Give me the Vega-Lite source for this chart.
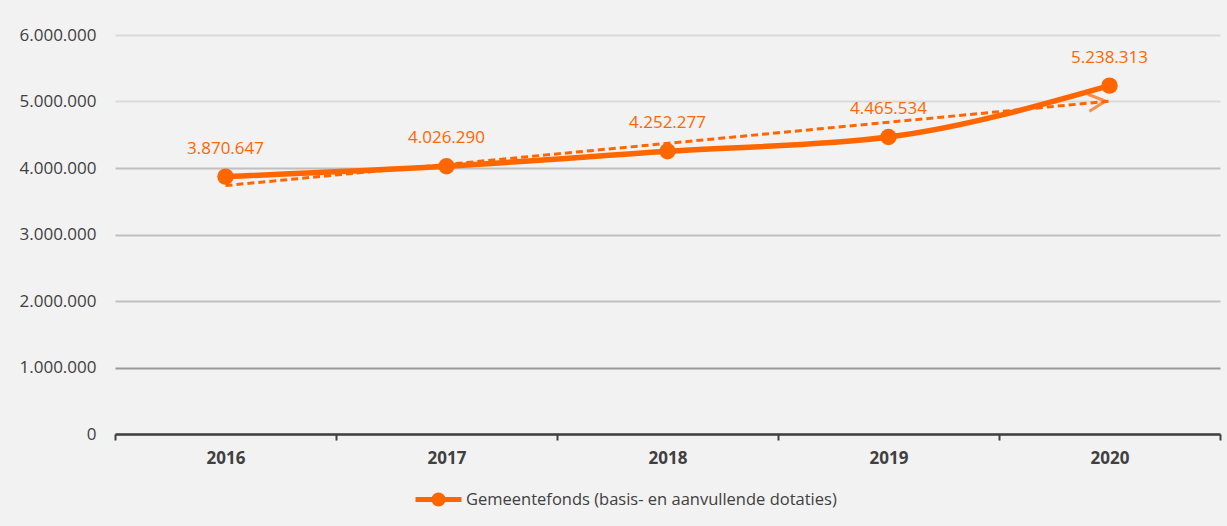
{
  "$schema": "https://vega.github.io/schema/vega-lite/v6.json",
  "autosize": {"type": "none"},
  "width": 1105,
  "height": 399,
  "padding": {"left": 115, "top": 35, "right": 7, "bottom": 92},
  "background": "#f2f2f2",
  "config": {
    "locale": {"number": {"decimal": ",", "thousands": ".", "grouping": [3], "currency": ["€", ""]}},
    "view": {"stroke": null},
    "font": "Open Sans"
  },
  "datasets": {
    "main": [
      {"jaar": "2016", "waarde": 3870647, "reeks": "Gemeentefonds (basis- en aanvullende dotaties)"},
      {"jaar": "2017", "waarde": 4026290, "reeks": "Gemeentefonds (basis- en aanvullende dotaties)"},
      {"jaar": "2018", "waarde": 4252277, "reeks": "Gemeentefonds (basis- en aanvullende dotaties)"},
      {"jaar": "2019", "waarde": 4465534, "reeks": "Gemeentefonds (basis- en aanvullende dotaties)"},
      {"jaar": "2020", "waarde": 5238313, "reeks": "Gemeentefonds (basis- en aanvullende dotaties)"}
    ],
    "trend": [
      {"jaar": "2016", "waarde": 3735700},
      {"jaar": "2020", "waarde": 5005500}
    ],
    "pijl": [
      {"jaar": "2020", "waarde": 5005500}
    ]
  },
  "encoding": {
    "x": {
      "field": "jaar", "type": "nominal",
      "scale": {"type": "band", "paddingInner": 0, "paddingOuter": 0, "domain": ["2016", "2017", "2018", "2019", "2020"]},
      "axis": {
        "title": null, "labelAngle": 0, "grid": false,
        "tickBand": "extent",
        "domainColor": "#404040", "domainWidth": 2.5,
        "tickColor": "#404040", "tickWidth": 2, "tickSize": 6,
        "labelFont": "Open Sans", "labelFontSize": 17, "labelFontWeight": "bold",
        "labelColor": "#404040", "labelPadding": 10
      }
    },
    "y": {
      "field": "waarde", "type": "quantitative",
      "scale": {"domain": [0, 6000000], "nice": false},
      "axis": {
        "title": null, "values": [0, 1000000, 2000000, 3000000, 4000000, 5000000, 6000000],
        "format": ",d", "domain": false, "ticks": false,
        "labelPadding": 19, "labelFont": "Open Sans", "labelFontSize": 17, "labelColor": "#404040",
        "gridWidth": 2,
        "gridColor": {"condition": [
          {"test": "datum.value >= 5000000", "value": "#d9d9d9"},
          {"test": "datum.value == 1000000", "value": "#999999"}
        ], "value": "#bfbfbf"}
      }
    }
  },
  "layer": [
    {
      "data": {"name": "trend"},
      "mark": {"type": "line", "color": "#ff6600", "strokeWidth": 3, "strokeDash": [7, 4]}
    },
    {
      "data": {"name": "pijl"},
      "mark": {"type": "point", "shape": "M -1 -0.5 L 0 0 L -1 0.5", "filled": false, "stroke": "#ff6600", "strokeWidth": 3, "size": 1156, "angle": -5.4, "xOffset": -4}
    },
    {
      "data": {"name": "main"},
      "mark": {"type": "line", "interpolate": "monotone", "strokeWidth": 5.5},
      "encoding": {
        "color": {
          "field": "reeks", "type": "nominal",
          "scale": {"range": ["#ff6600"]},
          "legend": {
            "title": null, "orient": "none", "legendX": 298, "legendY": 439, "direction": "horizontal",
            "symbolType": "M -1 0 L 1 0 M 0.2 0 A 0.2 0.2 0 1 1 -0.2 0 A 0.2 0.2 0 1 1 0.2 0 Z",
            "symbolSize": 2116, "symbolStrokeWidth": 5,
            "symbolFillColor": "#ff6600", "symbolStrokeColor": "#ff6600",
            "labelFont": "Open Sans", "labelFontSize": 16.5, "labelColor": "#404040",
            "labelLimit": 600, "labelOffset": 2,
            "encode": {"symbols": {"update": {"stroke": {"value": "#ff6600"}, "fill": {"value": "#ff6600"}, "strokeWidth": {"value": 5}, "shape": {"value": "M -1 0 L 1 0 M 0.2 0 A 0.2 0.2 0 1 1 -0.2 0 A 0.2 0.2 0 1 1 0.2 0 Z"}}}}
          }
        }
      }
    },
    {
      "data": {"name": "main"},
      "mark": {"type": "point", "filled": true, "color": "#ff6600", "size": 270, "opacity": 1}
    },
    {
      "data": {"name": "main"},
      "mark": {"type": "text", "color": "#ff6600", "font": "Open Sans", "fontSize": 17, "dy": -28},
      "encoding": {"text": {"field": "waarde", "type": "quantitative", "format": ",d"}}
    }
  ]
}
